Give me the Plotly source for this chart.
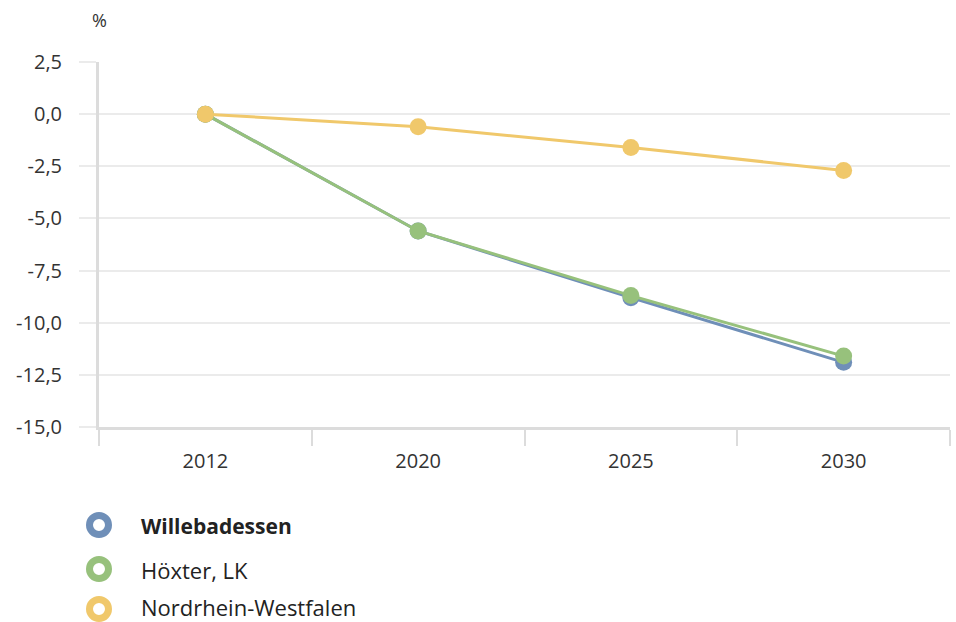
import plotly.graph_objects as go

years = ["2012", "2020", "2025", "2030"]
series_names = ["Willebadessen", "Höxter, LK", "Nordrhein-Westfalen"]
willebadessen = [0.0, -5.6, -8.8, -11.9]
hoexter = [0.0, -5.6, -8.7, -11.6]
nrw = [0.0, -0.6, -1.6, -2.7]
colors = ["#6f8fb8", "#97c17c", "#f0c86b"]
y_ticks = [2.5, 0.0, -2.5, -5.0, -7.5, -10.0, -12.5, -15.0]
y_tick_text = ["2,5", "0,0", "-2,5", "-5,0", "-7,5", "-10,0", "-12,5", "-15,0"]

FONT = "Open Sans"
TEXT = "#333333"
FS = 20

fig = go.Figure()
for name, vals, col in zip(series_names, [willebadessen, hoexter, nrw], colors):
    fig.add_trace(go.Scatter(
        x=years, y=vals, name=name, mode="lines+markers",
        line=dict(color=col, width=3),
        marker=dict(color=col, size=17),
        showlegend=False, cliponaxis=False,
    ))

fig.update_layout(
    width=956, height=622,
    margin=dict(l=99, r=6, t=62, b=195),
    paper_bgcolor="white", plot_bgcolor="white",
    font=dict(family=FONT, size=FS, color=TEXT),
    showlegend=False,
)

fig.update_xaxes(
    type="category", range=[-0.5, 3.5],
    showgrid=False, zeroline=False,
    showline=True, linecolor="#dcdcdc", linewidth=2.5,
    ticks="outside", tickson="boundaries", ticklen=16,
    tickcolor="#dcdcdc", tickwidth=2,
    ticklabelstandoff=14,
    tickfont=dict(family=FONT, size=FS, color=TEXT),
)
fig.update_yaxes(
    range=[-15, 2.5], tickvals=y_ticks, ticktext=y_tick_text,
    showgrid=True, gridcolor="#ebebeb", gridwidth=1.5,
    zeroline=False,
    showline=True, linecolor="#dcdcdc", linewidth=3,
    ticks="outside", ticklen=17, tickcolor="#ebebeb", tickwidth=1.5,
    ticklabelstandoff=13,
    tickfont=dict(family=FONT, size=FS, color=TEXT),
)

# unit label above the y axis
fig.add_annotation(
    text="%", xref="paper", yref="paper", x=0, y=1, yshift=42,
    xanchor="center", yanchor="middle", showarrow=False,
    font=dict(family=FONT, size=18, color=TEXT),
)

# legend: ring markers with labels below the plot
legend_y_px = [526, 570, 607]
marker_y_px = [525, 569, 609]
legend_sizes = [21, 22, 22]
plot_h = 622 - 62 - 195
for i, (name, col) in enumerate(zip(series_names, colors)):
    yp = (622 - 195 - legend_y_px[i]) / plot_h
    ym = (622 - 195 - marker_y_px[i]) / plot_h
    fig.add_shape(
        type="circle", xref="paper", yref="paper",
        xsizemode="pixel", ysizemode="pixel",
        xanchor=0, yanchor=ym,
        x0=-9.5, x1=9.5, y0=-9.5, y1=9.5,
        line=dict(color=col, width=7), fillcolor="white",
    )
    label = f"<b>{name}</b>" if i == 0 else name
    fig.add_annotation(
        text=label, xref="paper", yref="paper", x=0, y=yp,
        xshift=41, xanchor="left", yanchor="middle",
        showarrow=False, borderpad=0,
        font=dict(family=FONT, size=legend_sizes[i], color="#222222"),
    )

fig.write_html("out.html")
